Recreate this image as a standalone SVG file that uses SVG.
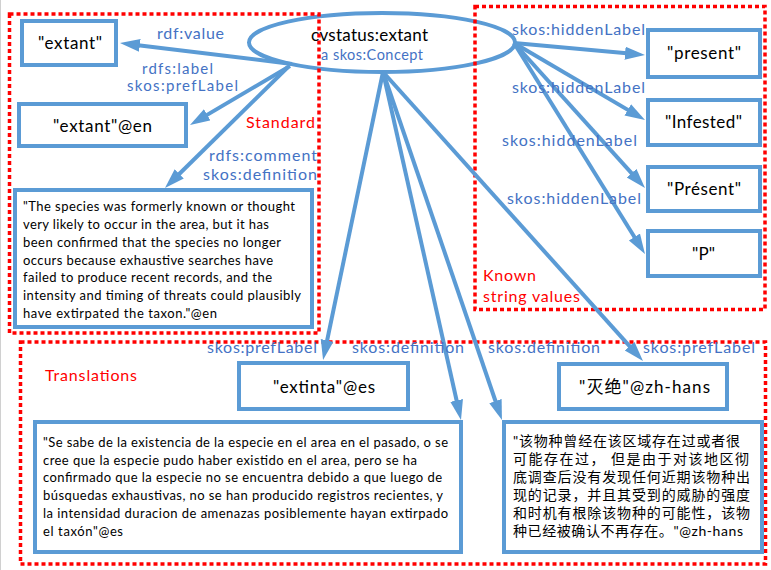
<svg xmlns="http://www.w3.org/2000/svg" width="771" height="570" viewBox="0 0 771 570">
<defs>
<marker id="ah" markerUnits="userSpaceOnUse" markerWidth="21" markerHeight="14" refX="10" refY="6.5" orient="auto"><path d="M0,0 L20,6.5 L0,13 Z" fill="#5B9BD5"/></marker>
</defs>
<style>
.node{fill:#fff;stroke:#5B9BD5;stroke-width:4}
.region{fill:none;stroke:#FF0000;stroke-width:3.5;stroke-dasharray:4 3}
.edge{fill:none;stroke:#5B9BD5;stroke-width:4;marker-end:url(#ah)}
.t{font-family:Lato,"Liberation Sans",sans-serif;fill:#000;font-size:17px}
.lbl{font-family:Lato,"Liberation Sans",sans-serif;fill:#4472C4;font-size:16px}
.red{font-family:Lato,"Liberation Sans",sans-serif;fill:#FF0000;font-size:16px}
.p{font-family:Lato,"Liberation Sans",sans-serif;font-size:13px;fill:#000}
.zh{font-family:Lato,"Noto Sans CJK SC",sans-serif;font-size:14px;fill:#000}
</style>
<rect width="771" height="570" fill="#fff"/>
<line x1="0.5" y1="0" x2="0.5" y2="570" stroke="#d0d0d0" stroke-width="1"/>

<g id="concept">
<ellipse cx="382" cy="42.5" rx="133" ry="29.5" fill="#fff" stroke="#5B9BD5" stroke-width="4"/>
</g>

<g id="regions">
<g id="region-standard"><rect class="region" x="9.5" y="14" width="309.5" height="319"/><text class="red" x="246" y="128" textLength="69">Standard</text></g>
<g id="region-known"><rect class="region" x="475" y="6.5" width="290" height="303"/><text class="red" x="483" y="281" textLength="53">Known</text><text class="red" x="483" y="302" textLength="97">string values</text></g>
<g id="region-translations"><rect class="region" x="20.5" y="342" width="745" height="222"/><text class="red" x="45" y="381" textLength="92">Translations</text></g>
</g>

<g id="concept-text">
<text class="t" x="311" y="41" textLength="117">cvstatus:extant</text>
<text class="lbl" x="321" y="60" style="font-size:14.5px" textLength="102">a skos:Concept</text>
</g>

<g id="connectors">
<path class="edge" d="M292,64 L129.9,44.2"/>
<path class="edge" d="M290,66 L198.6,119.9"/>
<path class="edge" d="M288,67 L172.1,181"/>
<path class="edge" d="M383,72 L325.1,350.2"/>
<path class="edge" d="M383,72 L458.8,410.2"/>
<path class="edge" d="M383,72 L498.7,410.5"/>
<path class="edge" d="M383,72 L636.3,353.6"/>
<path class="edge" d="M514,43 L635,54.1"/>
<path class="edge" d="M514,43 L636.4,114.9"/>
<path class="edge" d="M514,43 L638.3,180.6"/>
<path class="edge" d="M514,43 L639.7,245.5"/>
<text class="lbl" x="157" y="39" textLength="67">rdf:value</text>
<text class="lbl" x="142" y="73.5" style="font-size:15px" textLength="71">rdfs:label</text>
<text class="lbl" x="127" y="90.5" style="font-size:15px" textLength="111">skos:prefLabel</text>
<text class="lbl" x="209" y="161" textLength="108">rdfs:comment</text>
<text class="lbl" x="203" y="180" textLength="114">skos:definition</text>
<text class="lbl" x="512" y="35" textLength="133">skos:hiddenLabel</text>
<text class="lbl" x="512" y="93" textLength="133">skos:hiddenLabel</text>
<text class="lbl" x="502" y="146" textLength="135">skos:hiddenLabel</text>
<text class="lbl" x="507" y="204" textLength="134">skos:hiddenLabel</text>
<text class="lbl" x="207" y="353" textLength="110">skos:prefLabel</text>
<text class="lbl" x="352" y="353" textLength="112">skos:definition</text>
<text class="lbl" x="488" y="353" textLength="112">skos:definition</text>
<text class="lbl" x="643" y="353" textLength="112">skos:prefLabel</text>
</g>

<g id="n-value"><rect class="node" x="22" y="21" width="94" height="44"/><text class="t" x="38" y="49" textLength="64">"extant"</text></g>
<g id="n-label-en"><rect class="node" x="19" y="104" width="167" height="42"/><text class="t" x="53" y="132" textLength="99">"extant"@en</text></g>
<g id="n-def-en"><rect class="node" x="15" y="190" width="297" height="137"/>
<text class="p" x="23" y="210.7" textLength="272">"The species was formerly known or thought</text>
<text class="p" x="23" y="228.6" textLength="246">very likely to occur in the area, but it has</text>
<text class="p" x="23" y="246.6" textLength="258">been confirmed that the species no longer</text>
<text class="p" x="23" y="264.5" textLength="250">occurs because exhaustive searches have</text>
<text class="p" x="23" y="282.4" textLength="249">failed to produce recent records, and the</text>
<text class="p" x="23" y="300.4" textLength="278">intensity and timing of threats could plausibly</text>
<text class="p" x="23" y="318.3" textLength="194">have extirpated the taxon."@en</text>
</g>
<g id="n-present"><rect class="node" x="648" y="30" width="112" height="47"/><text class="t" x="667" y="59" textLength="74">"present"</text></g>
<g id="n-infested"><rect class="node" x="648" y="100" width="112" height="45"/><text class="t" x="665" y="128" textLength="77">"Infested"</text></g>
<g id="n-present-fr"><rect class="node" x="648" y="167" width="112" height="44"/><text class="t" x="667" y="195" textLength="74">"Présent"</text></g>
<g id="n-p"><rect class="node" x="648" y="231" width="112" height="45"/><text class="t" x="692" y="260" textLength="23">"P"</text></g>
<g id="n-label-es"><rect class="node" x="239" y="363" width="169" height="46"/><text class="t" x="273" y="393" textLength="102">"extinta"@es</text></g>
<g id="n-def-es"><rect class="node" x="35" y="422" width="426" height="130"/>
<text class="p" x="43" y="446.7" textLength="405">"Se sabe de la existencia de la especie en el area en el pasado, o se</text>
<text class="p" x="43" y="464.6" textLength="374">cree que la especie pudo haber existido en el area, pero se ha</text>
<text class="p" x="43" y="482.4" textLength="399">confirmado que la especie no se encuentra debido a que luego de</text>
<text class="p" x="43" y="500.3" textLength="400">búsquedas exhaustivas, no se han producido registros recientes, y</text>
<text class="p" x="43" y="518.1" textLength="405">la intensidad duracion de amenazas posiblemente hayan extirpado</text>
<text class="p" x="43" y="536" textLength="80">el taxón"@es</text>
</g>
<g id="n-label-zh"><rect class="node" x="559" y="364" width="168" height="45"/><text class="t" x="579" y="393" textLength="131" style="font-family:Lato,'Noto Sans CJK SC',sans-serif">"灭绝"@zh-hans</text></g>
<g id="n-def-zh"><rect class="node" x="504" y="422" width="258" height="130"/>
<text class="zh" x="513" y="446" textLength="227">"该物种曾经在该区域存在过或者很</text>
<text class="zh" x="513" y="464" textLength="236">可能存在过， 但是由于对该地区彻</text>
<text class="zh" x="513" y="482" textLength="237">底调查后没有发现任何近期该物种出</text>
<text class="zh" x="513" y="500" textLength="237">现的记录，并且其受到的威胁的强度</text>
<text class="zh" x="513" y="518" textLength="237">和时机有根除该物种的可能性，该物</text>
<text class="zh" x="513" y="536" textLength="230">种已经被确认不再存在。"@zh-hans</text>
</g>
</svg>
